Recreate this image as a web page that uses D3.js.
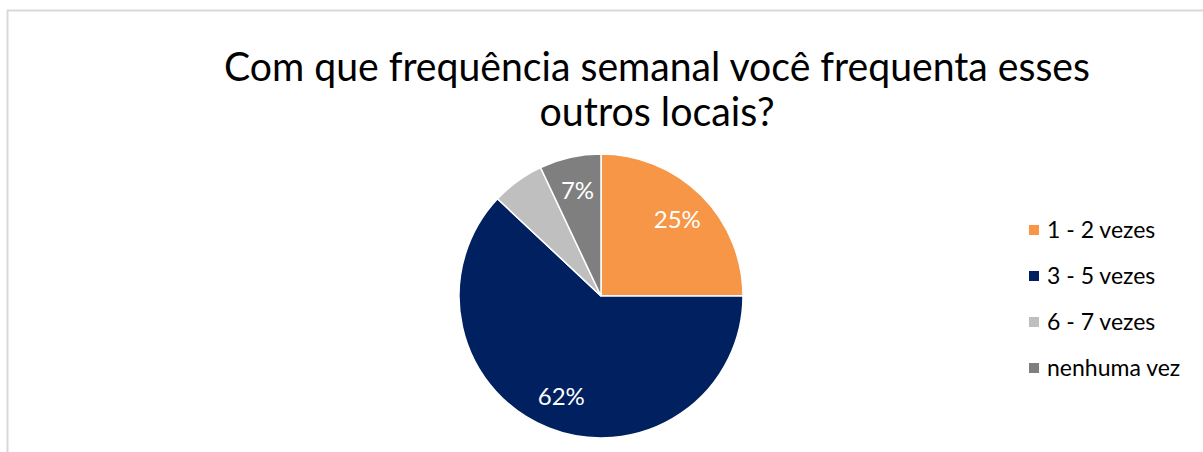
<!DOCTYPE html>
<html>
<head>
<meta charset="utf-8">
<script src="https://cdn.jsdelivr.net/npm/d3@7"></script>
<style>
  body { margin: 0; background: #fff; }
  text { font-family: Lato, "Open Sans", sans-serif; }
</style>
</head>
<body>
<div id="chart"></div>
<script>
const categories = ["1 - 2 vezes", "3 - 5 vezes", "6 - 7 vezes", "nenhuma vez"];
const values = [25, 62, 6, 7];
const labels = ["25%", "62%", "", "7%"];
const colors = ["#F79646", "#002060", "#BFBFBF", "#7F7F7F"];
const titleLines = ["Com que frequência semanal você frequenta esses", "outros locais?"];

const width = 1203,
  height = 452;

const svg = d3.select("#chart").append("svg")
  .attr("width", width)
  .attr("height", height);

// chart frame
svg.append("rect")
  .attr("x", 7.5)
  .attr("y", 10.5)
  .attr("width", 1210)
  .attr("height", 460)
  .attr("fill", "#fff")
  .attr("stroke", "#D9D9D9")
  .attr("stroke-width", 2);

// title
svg.append("g")
  .selectAll("text")
  .data(titleLines)
  .join("text")
  .attr("x", 657)
  .attr("y", (d, i) => 81 + i * 45)
  .attr("text-anchor", "middle")
  .attr("font-size", 40)
  .attr("fill", "#000")
  .attr("textLength", (d, i) => i === 0 ? 866 : 235)
  .attr("lengthAdjust", "spacingAndGlyphs")
  .text(d => d);

const cx = 601, cy = 296, r = 142;

const pie = d3.pie().sort(null).value(d => d);
const arcs = pie(values);
const arc = d3.arc().innerRadius(0).outerRadius(r);
const labelArc = d3.arc().innerRadius(r * 0.76).outerRadius(r * 0.76);

const g = svg.append("g").attr("transform", `translate(${cx},${cy})`);

g.selectAll("path")
  .data(arcs)
  .join("path")
  .attr("d", arc)
  .attr("fill", (d, i) => colors[i])
  .attr("stroke", "#fff")
  .attr("stroke-width", 1.5);

g.selectAll("text")
  .data(arcs)
  .join("text")
  .attr("transform", d => `translate(${labelArc.centroid(d)})`)
  .attr("text-anchor", "middle")
  .attr("dy", "0.36em")
  .attr("font-size", 24)
  .attr("fill", "#fff")
  .text((d, i) => labels[i]);

// legend
const legend = svg.append("g")
  .selectAll("g")
  .data(categories)
  .join("g")
  .attr("transform", (d, i) => `translate(1029, ${230 + i * 46})`);

legend.append("rect")
  .attr("x", 0)
  .attr("y", -5)
  .attr("width", 10)
  .attr("height", 10)
  .attr("fill", (d, i) => colors[i]);

legend.append("text")
  .attr("x", 18)
  .attr("dy", "0.35em")
  .attr("font-size", 23)
  .attr("fill", "#000")
  .text(d => d);
</script>
</body>
</html>
